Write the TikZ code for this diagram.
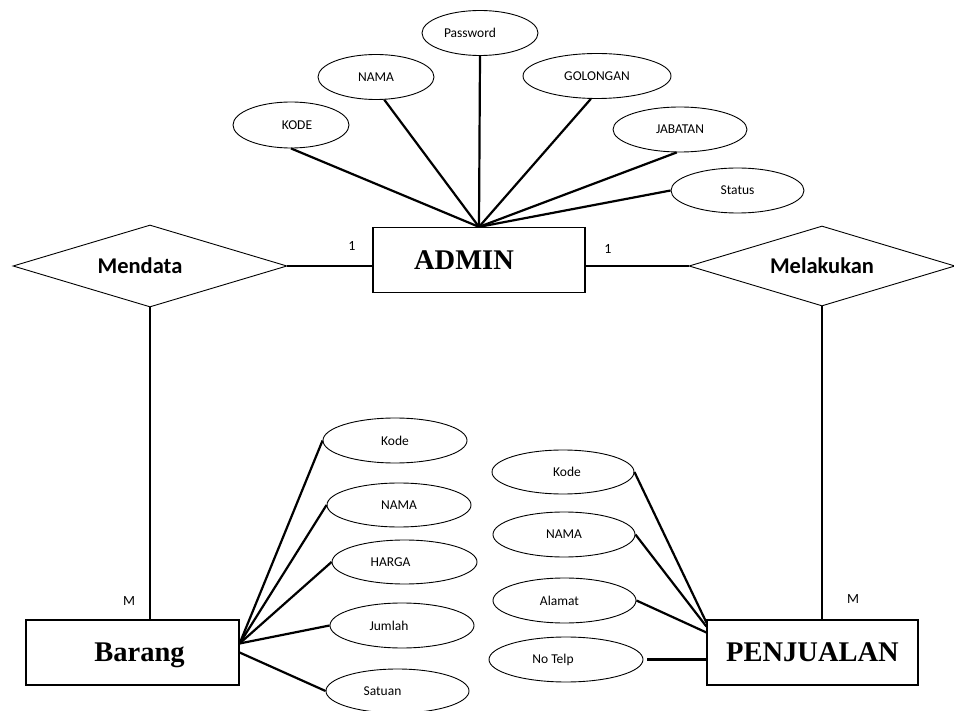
\documentclass[tikz,border=0pt]{standalone}
\usepackage{fontspec}
\setmainfont{Carlito}
\newfontfamily\tnr{Liberation Serif}
\usetikzlibrary{shapes.geometric}
\newcommand{\shiftx}[2]{\hspace*{#1}#2}
\begin{document}
\begin{tikzpicture}[x=1pt,y=-1pt,
  attr/.style={ellipse, draw, line width=0.9pt, inner sep=0pt, font=\fontsize{13.5}{13.5}\selectfont},
  ent/.style={rectangle, draw, line width=1.2pt, inner sep=0pt, font=\tnr\bfseries\fontsize{28.5}{28.5}\selectfont},
  rel/.style={diamond, draw, line width=0.9pt, inner sep=0pt, aspect=3.3, font=\bfseries\fontsize{22.5}{22.5}\selectfont},
  conn/.style={line width=2.2pt},
  card/.style={font=\fontsize{14}{14}\selectfont, inner sep=0pt}]
\useasboundingbox (0,0) rectangle (954,711);

% entities
\node[ent, minimum width=212pt, minimum height=65pt] (admin) at (479,260) {\raisebox{-10pt}[0pt][0pt]{\shiftx{-30pt}{ADMIN}}};
\node[ent, minimum width=213pt, minimum height=65pt] (barang) at (132.5,652.5) {\raisebox{-8.5pt}[0pt][0pt]{\shiftx{14pt}{Barang}}};
\node[ent, minimum width=211pt, minimum height=65pt] (penj) at (812.5,652.5) {PENJUALAN};

% relationships
\node[rel, minimum width=274pt, minimum height=82pt] (mendata) at (150,266) {\shiftx{-20pt}{Mendata}};
\node[rel, minimum width=266pt, minimum height=80pt] (melakukan) at (822,266) {Melakukan};

% admin attributes
\node[attr, minimum width=116pt, minimum height=46pt] (kode) at (291,125) {\shiftx{12pt}{KODE}};
\node[attr, minimum width=116pt, minimum height=45pt] (nama) at (376,77) {NAMA};
\node[attr, minimum width=116pt, minimum height=45pt] (pass) at (480,33) {\shiftx{-20pt}{Password}};
\node[attr, minimum width=148pt, minimum height=45pt] (gol) at (597,76) {GOLONGAN};
\node[attr, minimum width=134pt, minimum height=45pt] (jab) at (680,129.5) {JABATAN};
\node[attr, minimum width=133pt, minimum height=45pt] (status) at (737.5,190.5) {Status};

% barang attributes
\node[attr, minimum width=144pt, minimum height=45pt] (bk) at (395,440.5) {Kode};
\node[attr, minimum width=144pt, minimum height=44pt] (bn) at (399,505) {NAMA};
\node[attr, minimum width=145pt, minimum height=44pt] (bh) at (404.5,562) {\shiftx{-28pt}{HARGA}};
\node[attr, minimum width=144pt, minimum height=45pt] (bj) at (402,625.5) {\shiftx{-26pt}{Jumlah}};
\node[attr, minimum width=143pt, minimum height=44pt] (bs) at (397.5,691) {\shiftx{-30pt}{Satuan}};

% penjualan attributes
\node[attr, minimum width=142pt, minimum height=44pt] (pk) at (563,472) {\shiftx{8pt}{Kode}};
\node[attr, minimum width=142pt, minimum height=45pt] (pn) at (564,534.5) {NAMA};
\node[attr, minimum width=143pt, minimum height=45pt] (pa) at (564.5,600.5) {\shiftx{-10pt}{Alamat}};
\node[attr, minimum width=154pt, minimum height=45pt] (pt) at (566,659.5) {\shiftx{-26pt}{No Telp}};

% cardinalities
\node[card] (c1) at (352,246) {1};
\node[card] (c2) at (608,249) {1};
\node[card] (m1) at (129,601) {M};
\node[card] (m2) at (853,599) {M};

% connectors admin
\draw[conn] (kode.south) -- (admin.north);
\draw[conn] (nama.290) -- (admin.north);
\draw[conn] (pass.south) -- (admin.north);
\draw[conn] (gol.255) -- (admin.north);
\draw[conn] (jab.262) -- (admin.north);
\draw[conn] (status.west) -- (admin.north);

% relationships
\draw[conn] (mendata.east) -- (mendata.east -| admin.west);
\draw[conn] (melakukan.west) -- (melakukan.west -| admin.east);
\draw[conn] (mendata.south) -- (mendata.south |- barang.north);
\draw[conn] (melakukan.south) -- (melakukan.south |- penj.north);

% barang
\draw[conn] (bk.west) -- ([yshift=9pt]barang.east);
\draw[conn] (bn.west) -- ([yshift=9pt]barang.east);
\draw[conn] (bh.west) -- ([yshift=9pt]barang.east);
\draw[conn] (bj.west) -- ([yshift=9pt]barang.east);
\draw[conn] (bs.west) -- (barang.east);

% penjualan
\draw[conn] (pk.east) -- ([yshift=30pt]penj.west);
\draw[conn] (pn.east) -- ([yshift=26pt]penj.west);
\draw[conn] (pa.east) -- ([yshift=20pt]penj.west);
\draw[conn] ([xshift=4pt]pt.east) -- (pt.east -| penj.west);
\end{tikzpicture}
\end{document}
